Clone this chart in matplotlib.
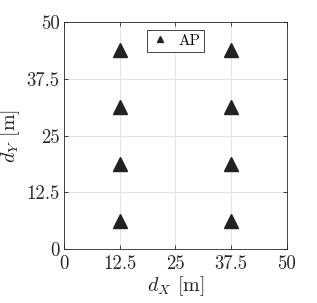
import matplotlib
matplotlib.use("Agg")
import matplotlib.pyplot as plt

plt.rcParams['font.family'] = 'serif'
plt.rcParams['font.serif'] = ['cmr10']
plt.rcParams['mathtext.fontset'] = 'cm'
plt.rcParams['axes.formatter.use_mathtext'] = True

ap_x = [12.5, 12.5, 12.5, 12.5, 37.5, 37.5, 37.5, 37.5]
ap_y = [6.25, 18.75, 31.25, 43.75, 6.25, 18.75, 31.25, 43.75]
ticks = [0, 12.5, 25, 37.5, 50]
tick_labels = ['0', '12.5', '25', '37.5', '50']

fig = plt.figure(figsize=(3.17, 3.03), dpi=100)
ax = fig.add_axes([0.202, 0.178, 0.703, 0.749])
ax.plot(ap_x, ap_y, linestyle='none', marker='^', markersize=10,
        color='#222222', label='AP')
ax.set_xlim(0, 50)
ax.set_ylim(0, 50)
ax.set_xticks(ticks)
ax.set_xticklabels(tick_labels)
ax.set_yticks(ticks)
ax.set_yticklabels(tick_labels)
ax.tick_params(direction='in', length=3, labelsize=13.5, top=True, right=True,
               color='#262626', labelcolor='#262626', width=0.6)
ax.tick_params(axis='x', pad=4)
ax.tick_params(axis='y', pad=3)
ax.grid(True, color='#e3e3e3', linewidth=0.7)
ax.set_axisbelow(True)
for s in ax.spines.values():
    s.set_color('#262626')
    s.set_linewidth(0.6)
ax.set_xlabel(r'$d_X$ [m]', fontsize=14.5, color='#262626', labelpad=1)
ax.set_ylabel(r'$d_Y$ [m]', fontsize=14.5, color='#262626', labelpad=3)
leg = ax.legend(loc='upper center', fontsize=11, markerscale=0.5,
                fancybox=False, framealpha=1, edgecolor='#262626',
                handlelength=1.2, borderpad=0.25, handletextpad=0.6,
                bbox_to_anchor=(0.5, 0.998))
leg.get_frame().set_linewidth(0.6)
fig.savefig('out.png', dpi=100)
